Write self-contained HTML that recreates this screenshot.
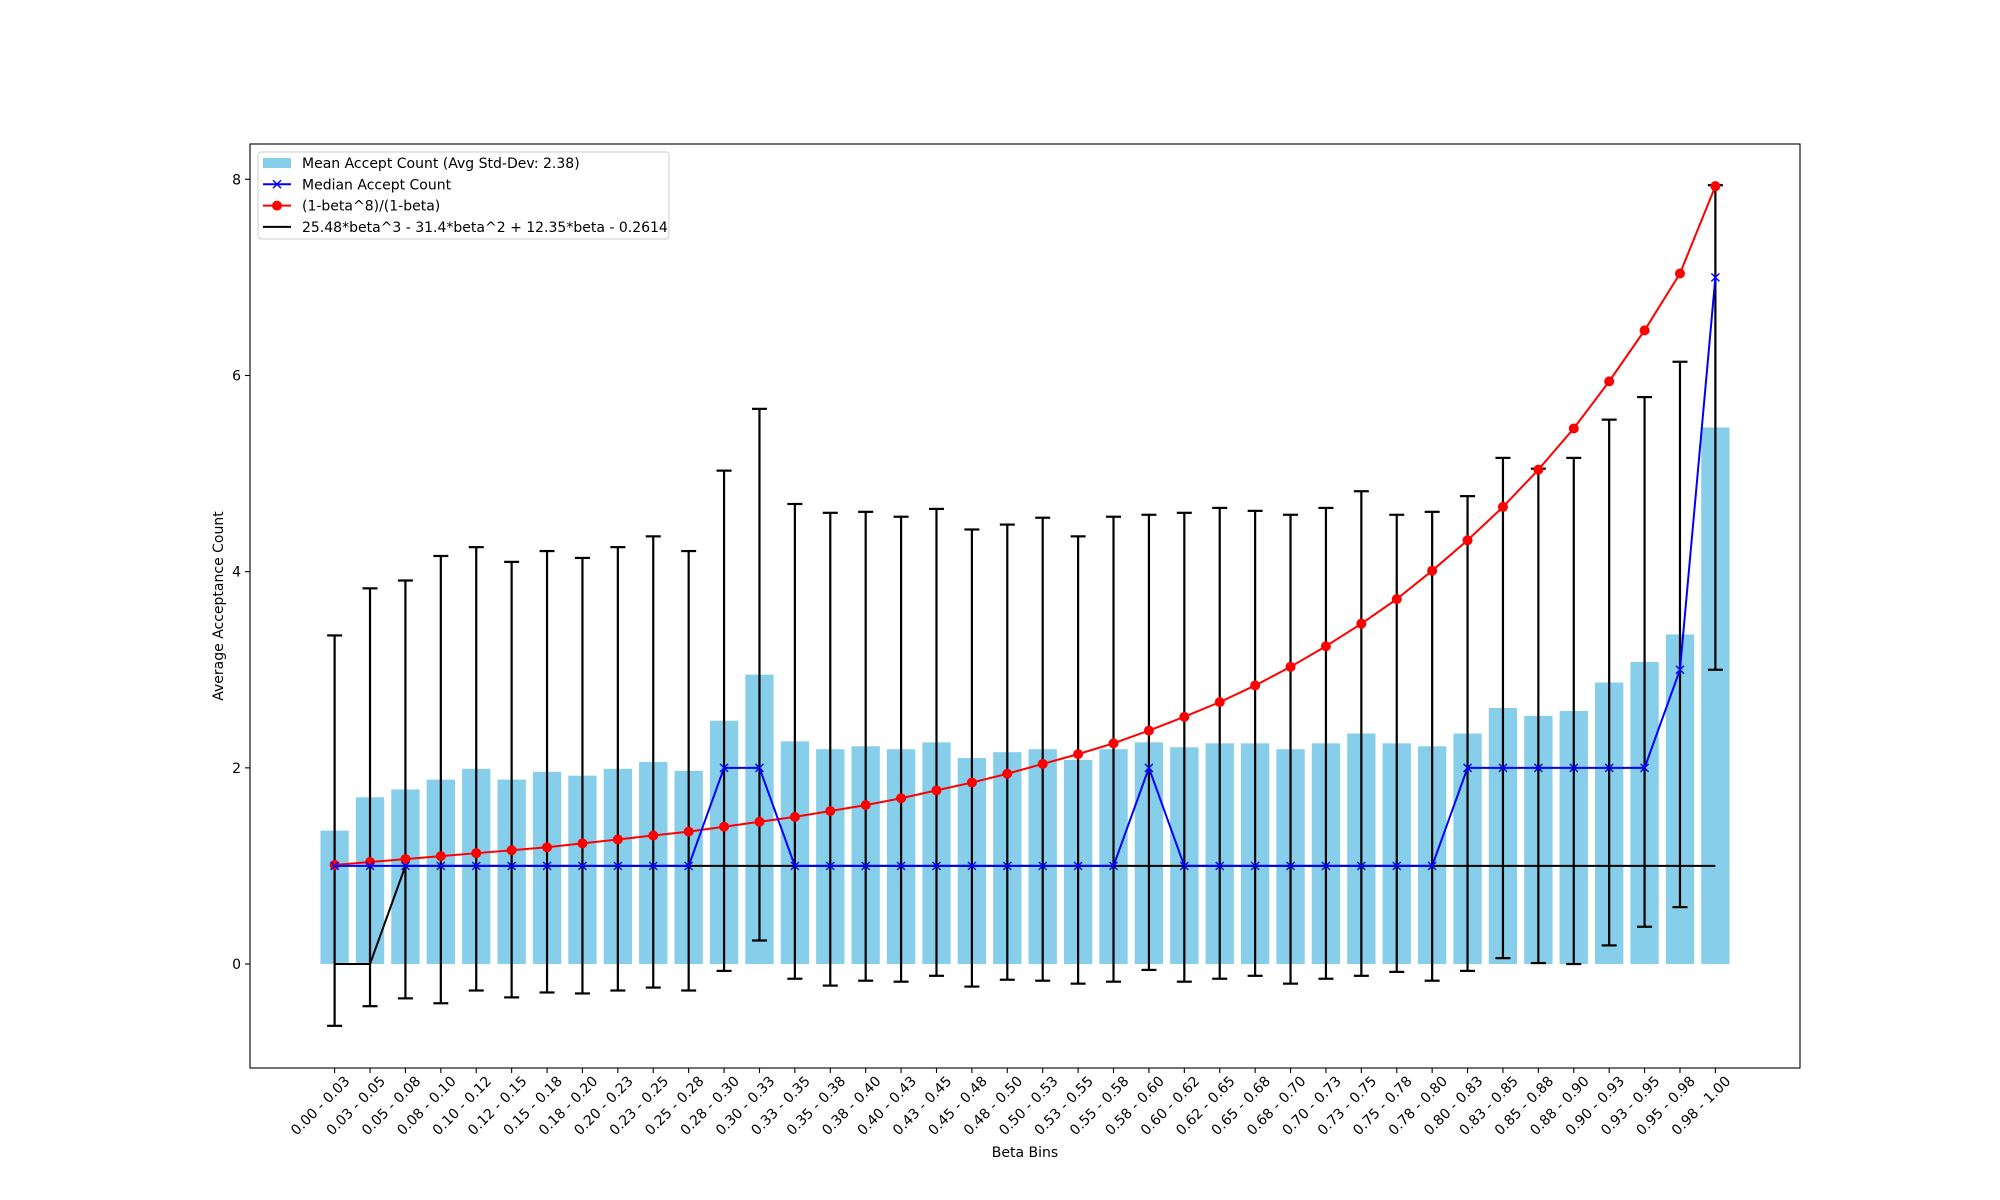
<!DOCTYPE html>
<html><head><meta charset="utf-8"><style>
body{margin:0;background:#fff}
svg{display:block;font-family:"DejaVu Sans","Liberation Sans",sans-serif}
</style></head><body>
<svg id="chart" width="2000" height="1200" xmlns="http://www.w3.org/2000/svg">
<rect width="2000" height="1200" fill="#fff"/>
<g id="plot"></g>
</svg>
<script>
const edges=["0.00","0.03","0.05","0.08","0.10","0.12","0.15","0.18","0.20","0.23","0.25","0.28","0.30","0.33","0.35","0.38","0.40","0.43","0.45","0.48","0.50","0.53","0.55","0.58","0.60","0.62","0.65","0.68","0.70","0.73","0.75","0.78","0.80","0.83","0.85","0.88","0.90","0.93","0.95","0.98","1.00"];
const means=[1.36,1.70,1.78,1.88,1.99,1.88,1.96,1.92,1.99,2.06,1.97,2.48,2.95,2.27,2.19,2.22,2.19,2.26,2.10,2.16,2.19,2.08,2.19,2.26,2.21,2.25,2.25,2.19,2.25,2.35,2.25,2.22,2.35,2.61,2.53,2.58,2.87,3.08,3.36,5.47];
const stds=[1.99,2.13,2.13,2.28,2.26,2.22,2.25,2.22,2.26,2.30,2.24,2.55,2.71,2.42,2.41,2.39,2.37,2.38,2.33,2.32,2.36,2.28,2.37,2.32,2.39,2.40,2.37,2.39,2.40,2.47,2.33,2.39,2.42,2.55,2.52,2.58,2.68,2.70,2.78,2.47];
const medians=[1,1,1,1,1,1,1,1,1,1,1,2,2,1,1,1,1,1,1,1,1,1,1,2,1,1,1,1,1,1,1,1,2,2,2,2,2,2,3,7];
const theory=[1.01,1.04,1.07,1.10,1.13,1.16,1.19,1.23,1.27,1.31,1.35,1.40,1.45,1.50,1.56,1.62,1.69,1.77,1.85,1.94,2.04,2.14,2.25,2.38,2.52,2.67,2.84,3.03,3.24,3.47,3.72,4.01,4.32,4.66,5.04,5.46,5.94,6.46,7.04,7.93];
const fit=[0,0,1,1,1,1,1,1,1,1,1,1,1,1,1,1,1,1,1,1,1,1,1,1,1,1,1,1,1,1,1,1,1,1,1,1,1,1,1,1];
const yTicks=[0,2,4,6,8];

const L=250,R=1800,T=144,B=1068,XMIN=-2.39,XMAX=41.39,YMIN=-1.06,YMAX=8.36;
const sx=v=>L+(v-XMIN)/(XMAX-XMIN)*(R-L);
const sy=v=>B-(v-YMIN)/(YMAX-YMIN)*(B-T);
const NS="http://www.w3.org/2000/svg";
const g=document.getElementById('plot');
function mk(tag,attrs,parent){const e=document.createElementNS(NS,tag);for(const k in attrs)e.setAttribute(k,attrs[k]);(parent||g).appendChild(e);return e;}
const n=means.length;
for(let i=0;i<n;i++){
  const r=mk('rect',{x:sx(i-0.4),y:Math.min(sy(means[i]),sy(0)),width:sx(0.8)-sx(0),height:Math.abs(sy(0)-sy(means[i])),fill:'#87ceeb'});
  
  
}
for(let i=0;i<n;i++){
  const eg=mk('g',{stroke:'#000','stroke-width':2.2});
  
  
  const x=sx(i),y1=sy(means[i]+stds[i]),y2=sy(means[i]-stds[i]);
  mk('line',{x1:x,x2:x,y1:y1,y2:y2},eg);
  mk('line',{x1:x-7.5,x2:x+7.5,y1:y1,y2:y1},eg);
  mk('line',{x1:x-7.5,x2:x+7.5,y1:y2,y2:y2},eg);
}
function poly(arr,color,w,name){
  const p=mk('polyline',{points:arr.map((v,i)=>sx(i)+','+sy(v)).join(' '),fill:'none',stroke:color,'stroke-width':w,'stroke-linejoin':'round'});
  
  
}
poly(fit,'#000',2,'fit-line');
poly(theory,'#f00',2,'theory-line');
for(let i=0;i<n;i++){
  const c=mk('circle',{cx:sx(i),cy:sy(theory[i]),r:5,fill:'#f00'});
  
  
}
poly(medians,'#00f',2,'median-line');
for(let i=0;i<n;i++){
  const x=sx(i),y=sy(medians[i]),s=4;
  const p=mk('path',{d:`M${x-s},${y-s}L${x+s},${y+s}M${x-s},${y+s}L${x+s},${y-s}`,stroke:'#00f','stroke-width':1.4,fill:'none'});
  
  
}
const fr=mk('rect',{x:L,y:T,width:R-L,height:B-T,fill:'none',stroke:'#000','stroke-width':1.1});


for(const t of yTicks){
  const y=sy(t);
  mk('line',{x1:L-5,x2:L,y1:y,y2:y,stroke:'#000','stroke-width':1.1});
  const tx=mk('text',{x:L-9,y:y+5,'text-anchor':'end','font-size':14});
  tx.textContent=t;
  
  
}
for(let i=0;i<n;i++){
  const x=sx(i);
  mk('line',{x1:x,x2:x,y1:B,y2:B+5,stroke:'#000','stroke-width':1.1});
  const ax=x+16,ay=B+14;
  const tx=mk('text',{x:ax,y:ay,'text-anchor':'end','font-size':14,transform:`rotate(-45 ${ax} ${ay})`});
  tx.textContent=edges[i]+' - '+edges[i+1];
  
  
}
const xl=mk('text',{x:(L+R)/2,y:1157,'text-anchor':'middle','font-size':14});
xl.textContent='Beta Bins';


const yl=mk('text',{x:223,y:(T+B)/2,'text-anchor':'middle','font-size':14,transform:`rotate(-90 223 ${(T+B)/2})`});
yl.textContent='Average Acceptance Count';


const lg=mk('g',{});


mk('rect',{x:258,y:152,width:411,height:87,rx:3,fill:'#fff','fill-opacity':0.8,stroke:'#ccc','stroke-width':1},lg);
const rows=[['bar','Mean Accept Count (Avg Std-Dev: 2.38)'],['med','Median Accept Count'],['th','(1-beta^8)/(1-beta)'],['fit','25.48*beta^3 - 31.4*beta^2 + 12.35*beta - 0.2614']];
rows.forEach((r,k)=>{
  const y=163+k*21.3;
  const e=mk('g',{},lg);
  
  
  if(r[0]==='bar')mk('rect',{x:263,y:y-5,width:28,height:10,fill:'#87ceeb'},e);
  else{
    const c=r[0]==='med'?'#00f':r[0]==='th'?'#f00':'#000';
    mk('line',{x1:263,x2:291,y1:y,y2:y,stroke:c,'stroke-width':2},e);
    if(r[0]==='med')mk('path',{d:`M273,${y-4}L281,${y+4}M273,${y+4}L281,${y-4}`,stroke:c,'stroke-width':1.4},e);
    if(r[0]==='th')mk('circle',{cx:277,cy:y,r:5,fill:c},e);
  }
  const t=mk('text',{x:302,y:y+5,'font-size':14},e);
  t.textContent=r[1];
});
</script>
</body></html>
